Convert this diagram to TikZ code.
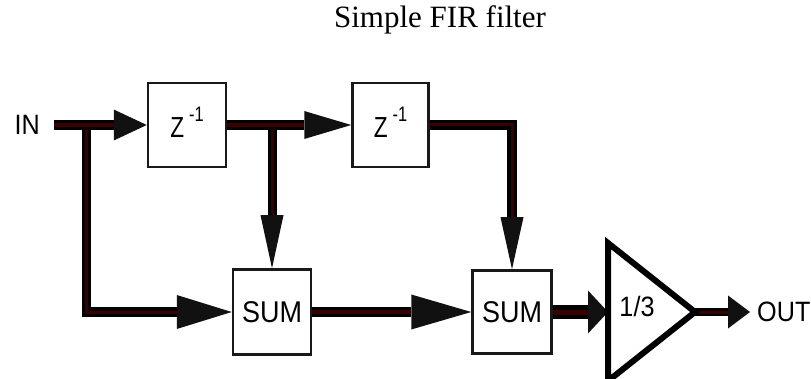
\documentclass[tikz,border=0pt]{standalone}
\usepackage{fontspec}
\setmainfont{Liberation Serif}
\newfontfamily\labfont[FakeStretch=0.9]{Liberation Sans}
\newfontfamily\zfont[FakeStretch=0.78]{Liberation Sans}
\usetikzlibrary{arrows.meta}
\definecolor{wirecore}{RGB}{58,0,0}
\definecolor{tipcol}{RGB}{17,17,17}
\newcommand{\zinv}{{\zfont\fontsize{29}{29}\selectfont Z\hspace{5pt}\raisebox{16pt}{\fontsize{21}{21}\selectfont -1}}}
\begin{document}
\begin{tikzpicture}[x=1pt,y=-1pt,
  box/.style={draw=black!90, line width=2.5pt, fill=white, minimum width=78pt, minimum height=84pt, inner sep=0pt, font=\labfont\fontsize{30}{30}\selectfont},
  lab/.style={font=\labfont\fontsize{28}{28}\selectfont, inner sep=0pt},
  wire/.style n args={4}{line width=#3, draw=black, -{Triangle[length=#1, width=#2, line width=0pt, color=tipcol]}, postaction={draw=wirecore, line width=#4, -, shorten >=#1}},
]
\useasboundingbox (0,0) rectangle (811,379);
% title
\node[font=\fontsize{31}{31}\selectfont] (title) at (440,20) {Simple FIR filter};
% blocks
\node[lab, anchor=east, inner xsep=14pt] (in) at (54,125) {IN};
\node[box, text depth=6pt] (z1) at (187,125) {\zinv};
\node[box, text depth=6pt, minimum width=76pt] (z2) at (390.5,125) {\zinv};
\node[box, minimum height=85pt] (sum1) at (272,312) {SUM};
\node[box, minimum width=79pt, minimum height=83pt] (sum2) at (512,312) {SUM};
\coordinate (ampin) at (608,312);
\coordinate (ampout) at (695,312);
\node[lab, anchor=west, inner xsep=7pt] (out) at (750,312) {OUT};
% junctions
\coordinate (j1) at (86,125);
\coordinate (j2) at (272,125);
% connectors
\draw[wire={55pt}{34pt}{9pt}{3pt}] (j1) |- (sum1.west);
\draw[wire={53pt}{23pt}{9pt}{3pt}] (j2) -- (sum1.north);
\draw[wire={33pt}{31pt}{10pt}{4pt}] (in.east) -- (z1.west);
\draw[wire={47pt}{28pt}{10pt}{4pt}] (z1.east) -- (z2.west);
\draw[wire={52pt}{23pt}{10pt}{3pt}] (z2.east) -| (sum2.north);
\draw[wire={60pt}{35pt}{10pt}{4pt}] (sum1.east) -- (sum2.west);
\draw[wire={20pt}{43pt}{14pt}{5pt}] (sum2.east) -- (ampin);
\draw[wire={22pt}{33pt}{8pt}{3pt}] (ampout) -- (out.west);
% amplifier
\draw[line width=6pt, fill=white] (608,243) -- (ampout) -- (608,381) -- cycle;
\node[lab] (gain) at (637,306) {1/3};
\end{tikzpicture}
\end{document}
